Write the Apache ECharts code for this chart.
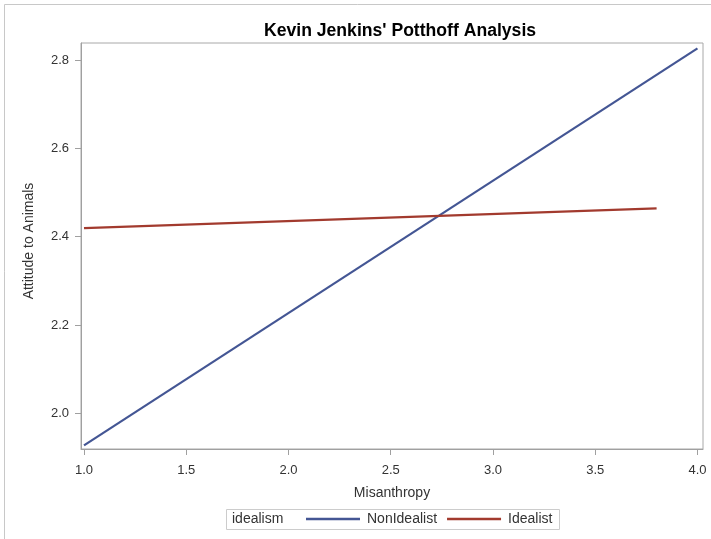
<!DOCTYPE html>
<html>
<head>
<meta charset="utf-8">
<script src="https://cdn.jsdelivr.net/npm/echarts@6/dist/echarts.min.js"></script>
<style>html,body{margin:0;padding:0;background:#fff}#c{width:711px;height:539px}</style>
</head>
<body>
<div id="c"></div>
<script>
var titleText = "Kevin Jenkins' Potthoff Analysis";
var xName = "Misanthropy";
var yName = "Attitude to Animals";
var legendTitle = "idealism";
var seriesNames = ["NonIdealist", "Idealist"];
var nonIdealistX = [1.0, 4.0];
var nonIdealistY = [1.9276, 2.8265];
var idealistX = [1.0, 3.80];
var idealistY = [2.4195, 2.464];
var xTicks = [1.0, 1.5, 2.0, 2.5, 3.0, 3.5, 4.0];
var yTicks = [2.0, 2.2, 2.4, 2.6, 2.8];

function pairs(xs, ys) { return xs.map(function (x, i) { return [x, ys[i]]; }); }

var font = 'Liberation Sans, Arial, sans-serif';
var chart = echarts.init(document.getElementById('c'), null, {renderer: 'canvas'});
chart.setOption({
  animation: false,
  backgroundColor: '#fff',
  title: {
    text: titleText, left: 259, top: 17,
    textStyle: {fontFamily: font, fontSize: 17.6, fontWeight: 'bold', color: '#000'}
  },
  grid: {left: 81, right: 8, top: 43, bottom: 90, show: true, borderColor: '#a8a8a8', borderWidth: 1, backgroundColor: 'transparent'},
  xAxis: {
    type: 'value', min: 0.9853, max: 4.027,
    axisLine: {show: true, lineStyle: {color: '#a0a0a0'}},
    axisTick: {show: true, length: 6, inside: false, customValues: xTicks, lineStyle: {color: '#a0a0a0'}},
    axisLabel: {customValues: xTicks, margin: 15, fontFamily: font, fontSize: 13, color: '#333',
      formatter: function (v) { return v.toFixed(1); }},
    splitLine: {show: false},
    name: xName, nameLocation: 'middle', nameGap: 37,
    nameTextStyle: {fontFamily: font, fontSize: 14, color: '#333'}
  },
  yAxis: {
    type: 'value', min: 1.9193, max: 2.8385,
    axisLine: {show: true, lineStyle: {color: '#a0a0a0'}},
    axisTick: {show: true, length: 6, inside: false, customValues: yTicks, lineStyle: {color: '#a0a0a0'}},
    axisLabel: {customValues: yTicks, margin: 12, fontFamily: font, fontSize: 13, color: '#333',
      formatter: function (v) { return v.toFixed(1); }},
    splitLine: {show: false}
  },
  legend: {
    left: 306, top: 512, padding: 0, itemGap: 10, itemWidth: 54, itemHeight: 14,
    icon: 'path://M0,6L54,6L54,8.3L0,8.3Z',
    data: seriesNames,
    textStyle: {fontFamily: font, fontSize: 14, color: '#333', padding: [0, 0, 0, 2]}
  },
  graphic: [
    {type: 'line', shape: {x1: 4.5, y1: 4.5, x2: 711, y2: 4.5}, style: {stroke: '#c8c8c8', lineWidth: 1}},
    {type: 'line', shape: {x1: 4.5, y1: 4.5, x2: 4.5, y2: 539}, style: {stroke: '#c8c8c8', lineWidth: 1}},
    {type: 'rect', shape: {x: 226.5, y: 509.5, width: 333, height: 20}, style: {fill: 'none', stroke: '#cccccc', lineWidth: 1}},
    {type: 'text', left: 232, top: 512, style: {text: legendTitle, font: '14px ' + font, fill: '#333'}},
    {type: 'text', x: 29, y: 241, rotation: Math.PI / 2,
      style: {text: yName, font: '14px ' + font, fill: '#333', align: 'center', verticalAlign: 'middle'}}
  ],
  series: [
    {name: seriesNames[0], type: 'line', data: pairs(nonIdealistX, nonIdealistY), symbol: 'none',
      lineStyle: {color: '#445694', width: 2.2}, itemStyle: {color: '#445694'}},
    {name: seriesNames[1], type: 'line', data: pairs(idealistX, idealistY), symbol: 'none',
      lineStyle: {color: '#A23A2E', width: 2.2}, itemStyle: {color: '#A23A2E'}}
  ]
});
</script>
</body>
</html>
